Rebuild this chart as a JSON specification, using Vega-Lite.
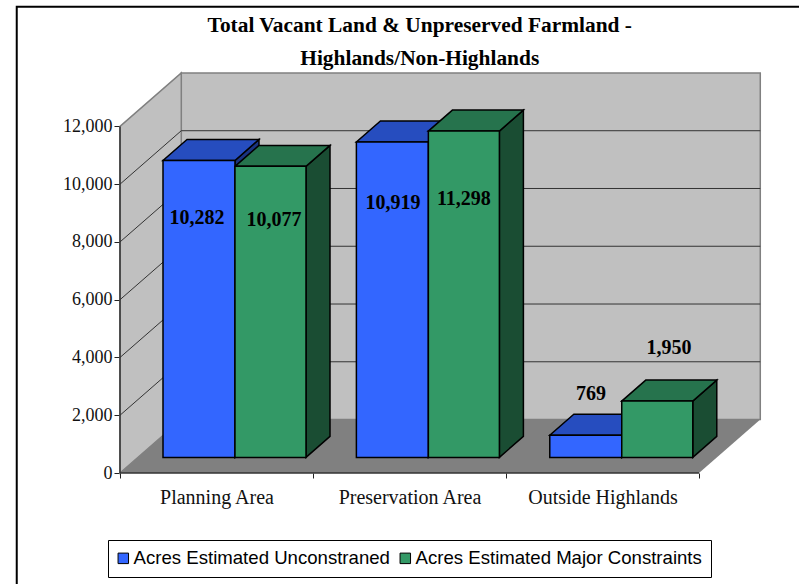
{
"$schema":"https://vega.github.io/schema/vega-lite/v6.json",
"width":641,"height":400,
"autosize":{"type":"none"},
"padding":{"left":120,"top":73,"right":38,"bottom":111},
"background":"white",
"view":{"stroke":null},
"title":{"text":["Total Vacant Land & Unpreserved Farmland -","Highlands/Non-Highlands"],"font":"Liberation Serif","fontSize":21.4,"fontWeight":"bold","color":"#000","lineHeight":33,"anchor":"start","align":"center","dx":407,"offset":-67},
"datasets":{
"bars":[
{"area":"Planning Area","series":"Acres Estimated Unconstraned","acres":10282},
{"area":"Planning Area","series":"Acres Estimated Major Constraints","acres":10077},
{"area":"Preservation Area","series":"Acres Estimated Unconstraned","acres":10919},
{"area":"Preservation Area","series":"Acres Estimated Major Constraints","acres":11298},
{"area":"Outside Highlands","series":"Acres Estimated Unconstraned","acres":769},
{"area":"Outside Highlands","series":"Acres Estimated Major Constraints","acres":1950}
],
"twoEnds":[{"i":0},{"i":1}],
"gridTicks":[
{"v":2000,"i":0},{"v":2000,"i":1},{"v":2000,"i":2},
{"v":4000,"i":0},{"v":4000,"i":1},{"v":4000,"i":2},
{"v":6000,"i":0},{"v":6000,"i":1},{"v":6000,"i":2},
{"v":8000,"i":0},{"v":8000,"i":1},{"v":8000,"i":2},
{"v":10000,"i":0},{"v":10000,"i":1},{"v":10000,"i":2}
],
"threeEnds":[{"i":0},{"i":1},{"i":2}]
},
"encoding":{
"x":{"field":"x","type":"quantitative","title":null,"scale":{"domain":[0,3.3212],"nice":false,"zero":false},
 "axis":{"values":[0,0.5,1,1.5,2,2.5,3],"labelExpr":"datum.value==0.5?'Planning Area':datum.value==1.5?'Preservation Area':datum.value==2.5?'Outside Highlands':''","grid":false,"domain":false,"tickColor":"#222","tickSize":5,"tickOpacity":{"condition":{"test":"datum.value % 1 === 0","value":1},"value":0},"labelFont":"Liberation Serif","labelFontSize":20,"labelColor":"#111","labelPadding":9,"labelFlush":false,"labelOverlap":false}},
"y":{"field":"y","type":"quantitative","title":null,"scale":{"domain":[0,13850],"nice":false,"zero":false},
 "axis":{"values":[0,2000,4000,6000,8000,10000,12000],"labelExpr":"format(datum.value,',')","grid":false,"domain":false,"tickColor":"#222","tickSize":6,"labelFont":"Liberation Serif","labelFontSize":18,"labelColor":"#111","labelPadding":2}}
},
"layer":[
{"data":{"name":"threeEnds"},"transform":[{"calculate":"[-0.535,-0.535,3.6][datum.i]","as":"x"},{"calculate":"[-3900,16140,16140][datum.i]","as":"y"}],
 "mark":{"type":"line","stroke":"#000","strokeWidth":2,"clip":false},"encoding":{"order":{"field":"i"}}},
{"data":{"name":"twoEnds"},"transform":[{"calculate":"0.3175+3*datum.i","as":"x"},{"calculate":"1851","as":"y"},{"calculate":"13851","as":"y2"}],
 "mark":{"type":"area","fill":"#C0C0C0","stroke":"#808080","strokeWidth":1.5},"encoding":{"y2":{"field":"y2"}}},
{"data":{"name":"twoEnds"},"transform":[{"calculate":"0.3175*datum.i","as":"x"},{"calculate":"1851*datum.i","as":"y"},{"calculate":"12000+1851*datum.i","as":"y2"}],
 "mark":{"type":"area","fill":"#C0C0C0","stroke":"#808080","strokeWidth":1.5},"encoding":{"y2":{"field":"y2"}}},
{"data":{"name":"gridTicks"},"transform":[{"calculate":"[0,0.3175,3.3175][datum.i]","as":"x"},{"calculate":"datum.v+(datum.i>0?1851:0)","as":"y"}],
 "mark":{"type":"line","stroke":"#333","strokeWidth":1},"encoding":{"detail":{"field":"v"},"order":{"field":"i"}}},
{"data":{"name":"twoEnds"},"transform":[{"calculate":"0.3175*datum.i","as":"x"},{"calculate":"3+0.3175*datum.i","as":"x2"},{"calculate":"1851*datum.i","as":"y"}],
 "mark":{"type":"area","orient":"horizontal","fill":"#808080"},"encoding":{"x2":{"field":"x2"}}},
{"data":{"name":"twoEnds"},"transform":[{"calculate":"3*datum.i","as":"x"},{"calculate":"0","as":"y"}],
 "mark":{"type":"line","stroke":"#333","strokeWidth":1.5},"encoding":{"order":{"field":"i"}}},
{"data":{"name":"twoEnds"},"transform":[{"calculate":"0","as":"x"},{"calculate":"12000*datum.i","as":"y"}],
 "mark":{"type":"line","stroke":"#333","strokeWidth":1.5},"encoding":{"order":{"field":"i"}}},
{"data":{"name":"bars"},"transform":[
 {"calculate":"datum.area+datum.series","as":"key"},
 {"calculate":"{'Planning Area':0,'Preservation Area':1.002,'Outside Highlands':2.004}[datum.area]","as":"k"},
 {"calculate":"datum.k+(datum.series=='Acres Estimated Unconstraned'?0.5957:0.9637)","as":"xr"},
 {"calculate":"[0,1]","as":"i"},{"flatten":["i"]},
 {"calculate":"datum.xr+0.1244*datum.i","as":"x"},
 {"calculate":"540+727*datum.i","as":"y"},
 {"calculate":"datum.acres+540+727*datum.i","as":"y2"}],
 "mark":{"type":"area","stroke":"#000","strokeWidth":1.5},
 "encoding":{"y2":{"field":"y2"},"detail":{"field":"key"},"fill":{"condition":{"test":"datum.series=='Acres Estimated Unconstraned'","value":"#1A3380"},"value":"#1A4D33"}}},
{"data":{"name":"bars"},"transform":[
 {"calculate":"datum.area+datum.series","as":"key"},
 {"calculate":"{'Planning Area':0,'Preservation Area':1.002,'Outside Highlands':2.004}[datum.area]","as":"k"},
 {"calculate":"datum.k+(datum.series=='Acres Estimated Unconstraned'?0.2228:0.5957)","as":"xl"},
 {"calculate":"datum.k+(datum.series=='Acres Estimated Unconstraned'?0.5957:0.9637)","as":"xr"},
 {"calculate":"[0,1]","as":"i"},{"flatten":["i"]},
 {"calculate":"datum.xl+0.1244*datum.i","as":"x"},
 {"calculate":"datum.xr+0.1244*datum.i","as":"x2"},
 {"calculate":"datum.acres+540+727*datum.i","as":"y"}],
 "mark":{"type":"area","orient":"horizontal","stroke":"#000","strokeWidth":1.5},
 "encoding":{"x2":{"field":"x2"},"detail":{"field":"key"},"fill":{"condition":{"test":"datum.series=='Acres Estimated Unconstraned'","value":"#264DBF"},"value":"#26734D"}}},
{"data":{"name":"bars"},"transform":[
 {"calculate":"{'Planning Area':0,'Preservation Area':1.002,'Outside Highlands':2.004}[datum.area]","as":"k"},
 {"calculate":"datum.k+(datum.series=='Acres Estimated Unconstraned'?0.2228:0.5957)","as":"x"},
 {"calculate":"datum.k+(datum.series=='Acres Estimated Unconstraned'?0.5957:0.9637)","as":"x2"},
 {"calculate":"540","as":"y"},
 {"calculate":"datum.acres+540","as":"y2"}],
 "mark":{"type":"rect","stroke":"#000","strokeWidth":1.5},
 "encoding":{"x2":{"field":"x2"},"y2":{"field":"y2"},
 "fill":{"field":"series","type":"nominal","sort":null,"scale":{"domain":["Acres Estimated Unconstraned","Acres Estimated Major Constraints"],"range":["#3366FF","#339966"]},
 "legend":{"title":null,"orient":"none","legendX":-12,"legendY":467,"direction":"horizontal","columns":2,"fillColor":"#fff","strokeColor":"#000","padding":9,"symbolType":"square","symbolSize":110,"symbolStrokeColor":"#000","symbolStrokeWidth":1,"symbolOffset":-3,"labelFont":"Liberation Sans","labelFontSize":18.6,"labelColor":"#000","labelLimit":400,"labelOffset":1,"columnPadding":8,"symbolOpacity":1}}}},
{"data":{"name":"bars"},"transform":[
 {"calculate":"{'10282':0.399,'10077':0.798,'10919':1.4145,'11298':1.782,'769':2.44,'1950':2.845}[datum.acres]","as":"x"},
 {"calculate":"{'10282':8813,'10077':8744,'10919':9332,'11298':9471,'769':2723,'1950':4315}[datum.acres]","as":"y"}],
 "mark":{"type":"text","font":"Liberation Serif","fontSize":20,"fontWeight":"bold","color":"#000","baseline":"middle","align":"center"},
 "encoding":{"text":{"field":"acres","type":"quantitative","format":","}}}
]
}
